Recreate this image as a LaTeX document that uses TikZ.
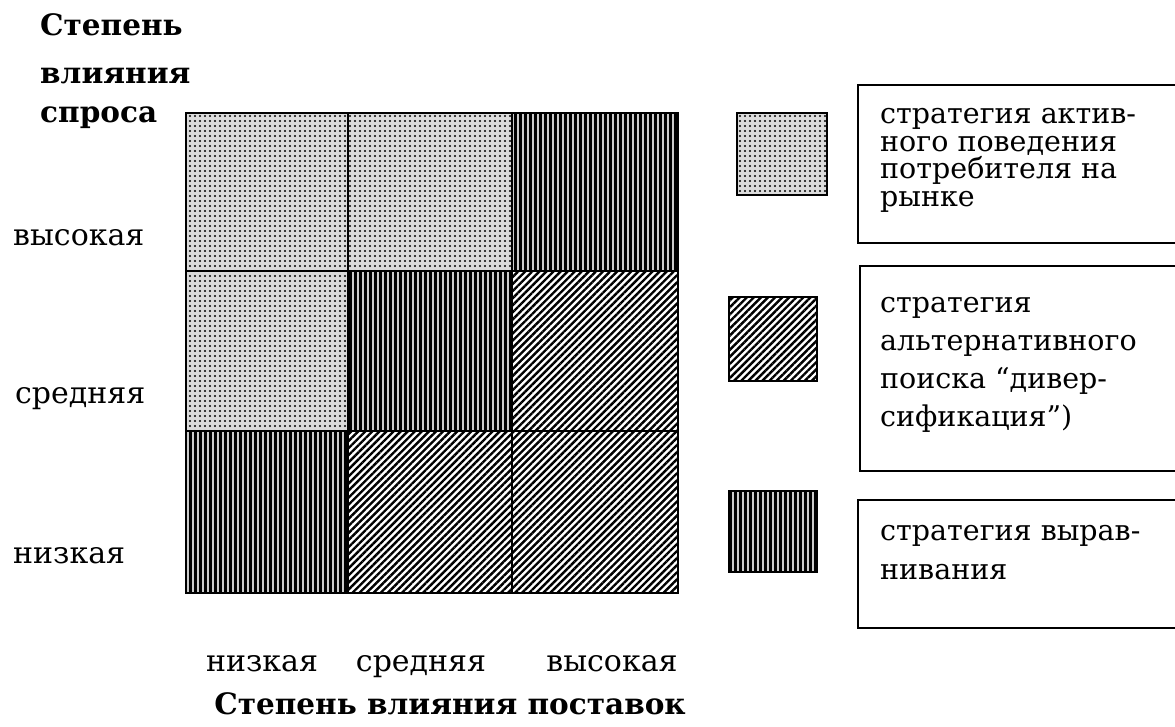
\documentclass[tikz,border=0pt]{standalone}
\usepackage{fontspec}
\setmainfont{DejaVu Serif}
\usetikzlibrary{patterns.meta}

\tikzset{
    % Cell fills - three strategies
    dot cell/.style={preaction={fill=gray!28}, pattern={Dots[distance=5pt, radius=1.1pt]}, pattern color=black},
    diag cell/.style={preaction={fill=white}, pattern={Lines[angle=45, distance=5pt, line width=2.4pt]}},
    vert cell/.style={preaction={fill=gray!40}, pattern={Lines[angle=90, distance=5pt, line width=3pt]}},
    % Borders
    cell border/.style={draw=black, line width=1.8pt},
    legend box/.style={draw=black, line width=2pt},
    % Text styles
    axis text/.style={font=\fontsize{30}{36}\selectfont, inner sep=0pt},
    title text/.style={font=\fontsize{29.5}{36}\selectfont\bfseries, inner sep=0pt},
    legend text/.style={font=\fontsize{28.5}{#1}\selectfont, inner sep=0pt, align=left, anchor=north west},
}

\begin{document}
\begin{tikzpicture}[x=1pt, y=-1pt]
    \useasboundingbox (0,0) rectangle (1175,726);

    % Matrix cells, top row
    \path[dot cell]  (186,113) rectangle (348,271);
    \path[dot cell]  (348,113) rectangle (512,271);
    \path[vert cell] (512,113) rectangle (678,271);
    % middle row
    \path[dot cell]  (186,271) rectangle (348,431);
    \path[vert cell] (348,271) rectangle (512,431);
    \path[diag cell] (512,271) rectangle (678,431);
    % bottom row
    \path[vert cell] (186,431) rectangle (348,593);
    \path[diag cell] (348,431) rectangle (512,593);
    \path[diag cell] (512,431) rectangle (678,593);

    % Grid lines
    \draw[cell border] (186,113) rectangle (678,593);
    \draw[cell border] (348,113) -- (348,593);
    \draw[cell border] (512,113) -- (512,593);
    \draw[cell border] (186,271) -- (678,271);
    \draw[cell border] (186,431) -- (678,431);

    % Vertical axis title
    \node[title text, anchor=base west] (demand1) at (40,35) {Степень};
    \node[title text, anchor=base west] (demand2) at (40,83) {влияния};
    \node[title text, anchor=base west] (demand3) at (40,122) {спроса};

    % Vertical axis levels
    \node[axis text, anchor=base west] (rowhigh) at (13,245) {высокая};
    \node[axis text, anchor=base west] (rowmid) at (15,403) {средняя};
    \node[axis text, anchor=base west] (rowlow) at (13,563) {низкая};

    % Horizontal axis levels and title
    \node[axis text, anchor=base] (collow) at (262,671) {низкая};
    \node[axis text, anchor=base] (colmid) at (421,671) {средняя};
    \node[axis text, anchor=base] (colhigh) at (612,671) {высокая};
    \node[title text, anchor=base] (supply) at (450,714) {Степень влияния поставок};

    % Legend swatches
    \path[dot cell]  (737,113) rectangle (827,195);
    \draw[line width=2pt] (737,113) rectangle (827,195);
    \path[diag cell] (729,297) rectangle (817,381);
    \draw[line width=2pt] (729,297) rectangle (817,381);
    \path[vert cell] (729,491) rectangle (817,572);
    \draw[line width=2pt] (729,491) rectangle (817,572);

    % Legend boxes
    \draw[legend box] (858,85) rectangle (1185,243);
    \node[legend text=27.7pt] (textactive) at (880,108)
        {стратегия  актив-\\ного поведения\\потребителя на\\рынке};
    \draw[legend box] (860,266) rectangle (1185,471);
    \node[legend text=38pt] (textalt) at (880,297)
        {стратегия\\альтернативного\\поиска “дивер-\\сификация”)};
    \draw[legend box] (858,500) rectangle (1185,628);
    \node[legend text=39pt] (textalign) at (880,525)
        {стратегия вырав-\\нивания};
\end{tikzpicture}
\end{document}
